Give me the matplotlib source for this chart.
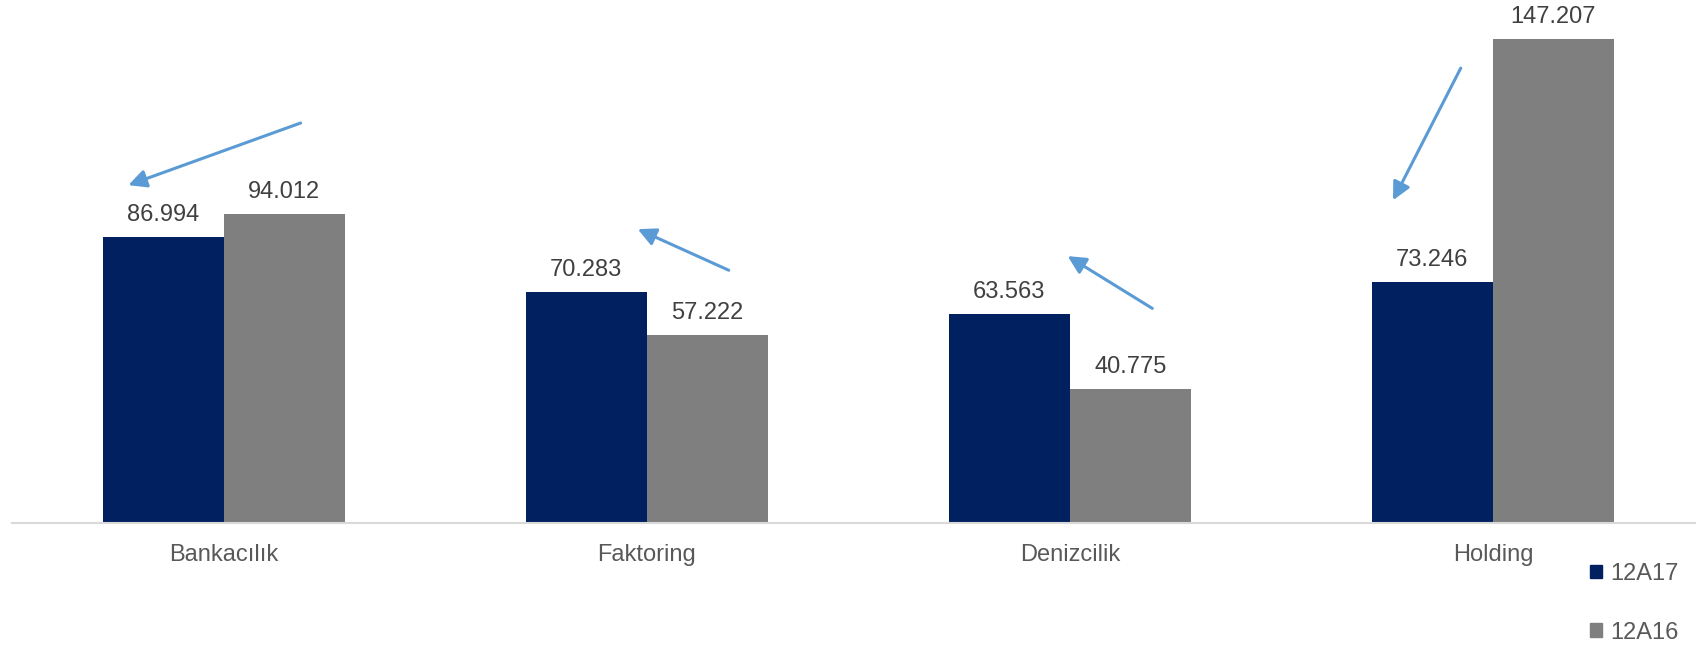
import numpy as np
import matplotlib
matplotlib.use('Agg')
import matplotlib.pyplot as plt
from matplotlib.patches import Patch

plt.rcParams['font.family'] = ['Liberation Sans', 'DejaVu Sans']

categories = ['Bankacılık', 'Faktoring', 'Denizcilik', 'Holding']
series_names = ['12A17', '12A16']
values_12A17 = [86.994, 70.283, 63.563, 73.246]
values_12A16 = [94.012, 57.222, 40.775, 147.207]
colors = ['#002060', '#7F7F7F']

# arrows (tail -> head) in data coordinates
arrow_tails = [(0.182, 121.7), (1.194, 76.9), (2.195, 65.3), (2.924, 138.4)]
arrow_heads = [(-0.225, 102.8), (0.979, 89.4), (1.995, 81.2), (2.764, 98.2)]

fig = plt.figure(figsize=(16.96, 6.49), dpi=100)
ax = fig.add_axes([12/1696, 126/649, 1684/1696, 493/649])

x = np.arange(len(categories))
w = 0.286
ax.bar(x - w/2, values_12A17, w, color=colors[0])
ax.bar(x + w/2, values_12A16, w, color=colors[1])

for xs, vals in [(x - w/2, values_12A17), (x + w/2, values_12A16)]:
    for xi, v in zip(xs, vals):
        lbl = f'{v:.3f}'
        ax.annotate(lbl, (xi, v), xytext=(0, 11.5), textcoords='offset points',
                    ha='center', va='baseline', fontsize=17, color='#404040')

for t, h in zip(arrow_tails, arrow_heads):
    ax.annotate('', xy=h, xytext=t,
                arrowprops=dict(arrowstyle='-|>', color='#5B9BD5', lw=2.2,
                                mutation_scale=27, shrinkA=0, shrinkB=0))

ax.set_xlim(-0.5, 3.48)
ax.set_ylim(0, 150)
ax.set_xticks(x)
ax.set_xticklabels(categories, fontsize=17, color='#595959')
ax.tick_params(axis='x', length=0, pad=15)
ax.set_yticks([])
for s in ['top', 'right', 'left']:
    ax.spines[s].set_visible(False)
ax.spines['bottom'].set_color('#D9D9D9')
ax.spines['bottom'].set_linewidth(1.5)

handles = [Patch(color=c) for c in colors]
leg = fig.legend(handles, series_names, loc='upper left', bbox_to_anchor=(1590/1696, 1 - 563/649),
                 frameon=False, fontsize=17, handlelength=0.5, handleheight=0.5,
                 handletextpad=0.35, labelspacing=1.55, borderpad=0, borderaxespad=0)
for t in leg.get_texts():
    t.set_color('#595959')

fig.savefig('out.png', dpi=100)
